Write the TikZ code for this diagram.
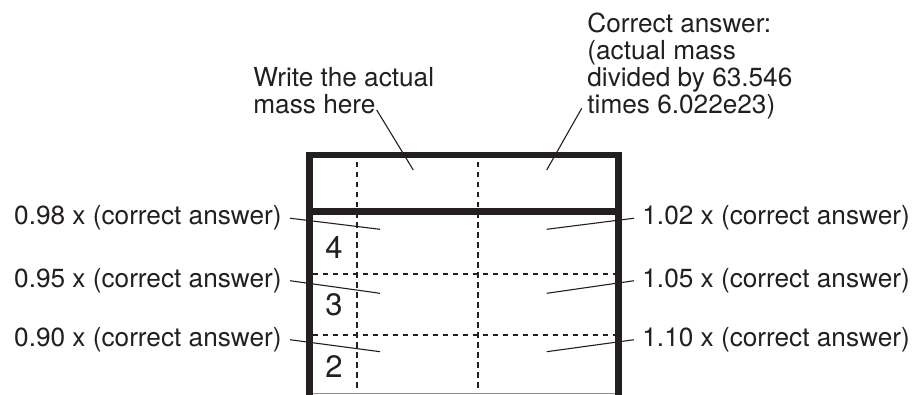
\documentclass[tikz,border=0pt]{standalone}
\usepackage{fontspec}
\setmainfont{TeX Gyre Heros}
\definecolor{gridink}{HTML}{231F20}
\definecolor{gridgray}{HTML}{8C8C8C}

\begin{document}
\begin{tikzpicture}[
      x=0.5pt,y=-0.5pt,
      font=\fontsize{13.1}{13.5}\selectfont,
      boxline/.style={draw=gridink,line width=3.3pt},
      dashline/.style={draw=gridink,line width=1.1pt,dash pattern=on 2.75pt off 2.25pt},
      pointer/.style={draw=gridink,line width=0.55pt},
      note/.style={inner xsep=4pt,inner ysep=0pt,text=gridink},
      rowno/.style={inner sep=0pt,text=gridink,font=\fontsize{15.5}{18}\selectfont}
    ]
    \useasboundingbox (0,0) rectangle (914,395);

    % dashed cell lines
    \draw[dashline] (356.7,162) -- (356.7,390);
    \draw[dashline] (478.3,162) -- (478.3,390);
    \draw[dashline] (312.7,273.7) -- (615.3,273.7);
    \draw[dashline] (312.7,335) -- (615.3,335);
    \draw[gridgray,line width=0.6pt] (312.7,393.6) -- (615.3,393.6);

    % frame
    \draw[boxline] (309.5,395) |- (618.5,155) -- (618.5,395);
    \draw[boxline] (309.5,211.5) -- (618.5,211.5);

    % row numbers
    \node[rowno] (r4) at (334,248) {4};
    \node[rowno] (r3) at (334,305) {3};
    \node[rowno] (r2) at (334,366.7) {2};

    % labels (base = last line)
    \node[note,inner xsep=0pt,align=left,anchor=base west] (massnote)
      at (253,114) {Write the actual\\mass here};
    \node[note,inner xsep=0pt,align=left,anchor=base west] (answernote)
      at (587,114) {Correct answer:\\(actual mass\\divided by 63.546\\times 6.022e23)};
    \node[note,anchor=base east] (lo98) at (290,225) {0.98 x (correct answer)};
    \node[note,anchor=base east] (lo95) at (290,287.5) {0.95 x (correct answer)};
    \node[note,anchor=base east] (lo90) at (290,346.5) {0.90 x (correct answer)};
    \node[note,anchor=base west] (hi02) at (634,225) {1.02 x (correct answer)};
    \node[note,anchor=base west] (hi05) at (634,287.5) {1.05 x (correct answer)};
    \node[note,anchor=base west] (hi10) at (634,346.5) {1.10 x (correct answer)};

    % pointer ends
    \coordinate (massfoot) at (376.7,110);
    \coordinate (masscell) at (413.3,170);
    \coordinate (answerfoot) at (581.7,108.3);
    \coordinate (answercell) at (546.7,170);
    \coordinate (c98) at (380,229.3);
    \coordinate (c95) at (380,293.3);
    \coordinate (c90) at (380,351.7);
    \coordinate (c02) at (546.7,229.3);
    \coordinate (c05) at (546.7,293.3);
    \coordinate (c10) at (546.7,351.7);

    \draw[pointer] (massfoot) -- (masscell);
    \draw[pointer] (answerfoot) -- (answercell);
    \draw[pointer] (lo98.east) -- (c98);
    \draw[pointer] (lo95.east) -- (c95);
    \draw[pointer] (lo90.east) -- (c90);
    \draw[pointer] (hi02.west) -- (c02);
    \draw[pointer] (hi05.west) -- (c05);
    \draw[pointer] (hi10.west) -- (c10);
  \end{tikzpicture}
\end{document}
